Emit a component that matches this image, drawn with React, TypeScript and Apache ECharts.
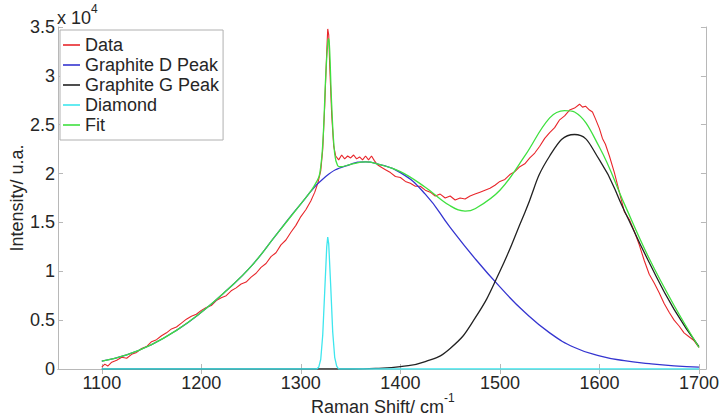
import React, { useEffect, useRef } from 'react';
import * as echarts from 'echarts';

const xTicks = [1100, 1200, 1300, 1400, 1500, 1600, 1700];
const seriesNames = ['Data', 'Graphite D Peak', 'Graphite G Peak', 'Diamond', 'Fit'];

const dataX = [1100,1103,1106,1110,1115,1120,1125,1130,1135,1140,1145,1150,1155,1160,1165,1170,1175,1180,1185,1190,1195,1200,1205,1210,1215,1220,1225,1230,1235,1240,1245,1250,1255,1260,1265,1270,1275,1280,1285,1290,1295,1300,1305,1310,1314,1317,1320,1322,1324,1326,1327,1328,1329,1331,1333,1335,1338,1341,1344,1347,1350,1353,1356,1359,1362,1365,1368,1371,1374,1377,1380,1385,1390,1395,1400,1405,1410,1415,1420,1425,1430,1435,1440,1445,1450,1455,1460,1465,1470,1475,1480,1485,1490,1495,1500,1505,1510,1515,1520,1525,1530,1535,1540,1545,1550,1555,1560,1565,1570,1575,1580,1583,1586,1590,1593,1596,1600,1603,1606,1610,1615,1620,1625,1630,1635,1640,1645,1650,1655,1660,1665,1670,1675,1680,1685,1690,1695,1700];
const dataY = [200,500,300,700,900,1200,1100,1500,1700,2100,2300,2800,3000,3400,3700,4100,4300,4700,5100,5400,5600,6000,6300,6500,7000,7300,7500,8000,8300,8700,8900,9400,9800,10400,10800,11500,11900,12700,13200,14000,14700,15600,16300,17200,18100,19000,20300,22500,27000,32500,34800,34200,31000,26000,22800,21800,21400,21900,21500,21800,21600,21900,21500,21700,21400,21800,21400,21800,21300,20900,20700,20400,20100,19700,19600,19200,19000,18700,18700,18300,18100,17700,17900,17500,17700,17300,17500,17400,17700,17900,18100,18300,18500,18800,19200,19400,19900,20200,20700,21000,21600,22100,22800,23600,24200,24700,25500,25900,26500,26700,27100,26800,26900,26500,26300,25600,24600,23600,23000,21800,20100,18100,16100,15300,14100,12700,11100,9700,8800,7800,6700,5800,5000,4400,3700,3300,2900,2200];

const dPeakX = [1100,1125,1150,1175,1200,1225,1250,1275,1300,1325,1350,1365,1375,1400,1425,1450,1475,1500,1525,1550,1575,1600,1625,1650,1675,1700];
const dPeakY = [800,1450,2500,3950,5800,8000,10500,13700,16900,19700,20950,21200,21050,20100,17900,14500,11300,8400,5800,3700,2200,1350,850,550,330,200];

const gPeakX = [1100,1300,1325,1350,1375,1400,1425,1450,1475,1500,1525,1550,1575,1600,1625,1650,1675,1700];
const gPeakY = [0,0,0,0,60,250,750,2100,5200,10000,16000,21800,24000,21400,16200,10900,6100,2300];

const diamondX = [1100,1316,1318,1320,1322,1324,1326,1327,1328,1330,1332,1334,1336,1338,1700];
const diamondY = [0,0,200,1000,3500,8000,12500,13500,12800,8500,3800,1200,300,0,0];

const fitX = [1100,1125,1150,1175,1200,1225,1250,1275,1300,1310,1316,1319,1322,1325,1327,1328,1329,1331,1334,1337,1340,1350,1365,1375,1400,1425,1450,1465,1475,1500,1525,1550,1565,1575,1600,1625,1650,1675,1700];
const fitY = [800,1450,2500,3950,5800,8000,10500,13700,16900,18200,19200,20000,23000,30000,33300,33800,32500,27000,22000,20800,20700,20950,21200,21050,20200,18600,16700,16150,16400,18300,21800,25700,26450,26300,22700,16900,11300,6500,2200];

const FONT = "'Liberation Sans', Arial, Helvetica, sans-serif";
const TEXT = '#262626';
const AXIS = '#b8b8b8';

const pairs = (xs: number[], ys: number[]) => xs.map((x, i) => [x, ys[i]]);

export default function App() {
  const ref = useRef<HTMLDivElement>(null);
  useEffect(() => {
    const chart = echarts.init(ref.current!, null, { renderer: 'svg' });
    const xAxisBase = {
      type: 'value' as const,
      min: 1056,
      max: 1707,
      splitLine: { show: false },
      axisLine: { show: true, lineStyle: { color: AXIS, width: 1 } },
      axisTick: { show: true, inside: true, length: 5, customValues: xTicks, lineStyle: { color: AXIS } },
    };
    const yAxisBase = {
      type: 'value' as const,
      min: 0,
      max: 35000,
      interval: 5000,
      splitLine: { show: false },
      axisLine: { show: true, lineStyle: { color: AXIS, width: 1 } },
      axisTick: { show: true, inside: true, length: 5, lineStyle: { color: AXIS } },
    };
    const line = (name: string, xs: number[], ys: number[], color: string, smooth: boolean | number, width = 1.3) => ({
      name,
      type: 'line',
      data: pairs(xs, ys),
      symbol: 'none',
      smooth,
      clip: true,
      lineStyle: { color, width },
      itemStyle: { color },
      z: 3,
    });
    chart.setOption({
      animation: false,
      backgroundColor: '#ffffff',
      textStyle: { fontFamily: FONT },
      grid: { left: 58, right: 15, top: 27, bottom: 51, containLabel: false },
      xAxis: [
        {
          ...xAxisBase,
          position: 'bottom',
          axisLabel: { customValues: xTicks, fontSize: 18, color: TEXT, margin: 5, fontFamily: FONT, formatter: (v: number) => String(v) },
        },
        { ...xAxisBase, position: 'top', axisLabel: { show: false } },
      ],
      yAxis: [
        {
          ...yAxisBase,
          position: 'left',
          axisLabel: { fontSize: 18, color: TEXT, margin: 3, fontFamily: FONT, formatter: (v: number) => String(v / 10000) },
        },
        { ...yAxisBase, position: 'right', axisLabel: { show: false } },
      ],
      legend: {
        orient: 'vertical',
        left: 60,
        top: 30,
        padding: [6, 4, 6, 3],
        itemGap: 2,
        itemWidth: 17,
        itemHeight: 1.6,
        icon: 'rect',
        borderColor: '#b0b0b0',
        borderWidth: 1,
        borderRadius: 0,
        backgroundColor: '#ffffff',
        selectedMode: false,
        textStyle: { fontSize: 18, lineHeight: 18, color: TEXT, fontFamily: FONT },
        data: seriesNames,
        z: 10,
      },
      graphic: [
        { type: 'text', x: 57, y: 18, z: 10, style: { text: 'x 10', fontSize: 18, fill: TEXT, fontFamily: FONT, align: 'left', verticalAlign: 'middle' } },
        { type: 'text', x: 91, y: 9, z: 10, style: { text: '4', fontSize: 12, fill: TEXT, fontFamily: FONT, align: 'left', verticalAlign: 'middle' } },
        { type: 'text', x: 17, y: 198, rotation: Math.PI / 2, z: 10, style: { text: 'Intensity/ u.a.', fontSize: 18, fill: TEXT, fontFamily: FONT, align: 'center', verticalAlign: 'middle' } },
        { type: 'text', x: 311, y: 407, z: 10, style: { text: 'Raman Shift/ cm', fontSize: 18, fill: TEXT, fontFamily: FONT, align: 'left', verticalAlign: 'middle' } },
        { type: 'text', x: 444, y: 398, z: 10, style: { text: '-1', fontSize: 12, fill: TEXT, fontFamily: FONT, align: 'left', verticalAlign: 'middle' } },
      ],
      series: [
        line('Data', dataX, dataY, '#e8262b', false, 1.1),
        line('Graphite D Peak', dPeakX, dPeakY, '#3535d0', true),
        line('Graphite G Peak', gPeakX, gPeakY, '#222222', true),
        line('Diamond', diamondX, diamondY, '#3ee6ee', false),
        line('Fit', fitX, fitY, '#3fe03f', 0.4),
      ],
    });
    return () => chart.dispose();
  }, []);
  return <div ref={ref} style={{ position: 'fixed', left: 0, top: 0, width: 722, height: 420 }} />;
}
